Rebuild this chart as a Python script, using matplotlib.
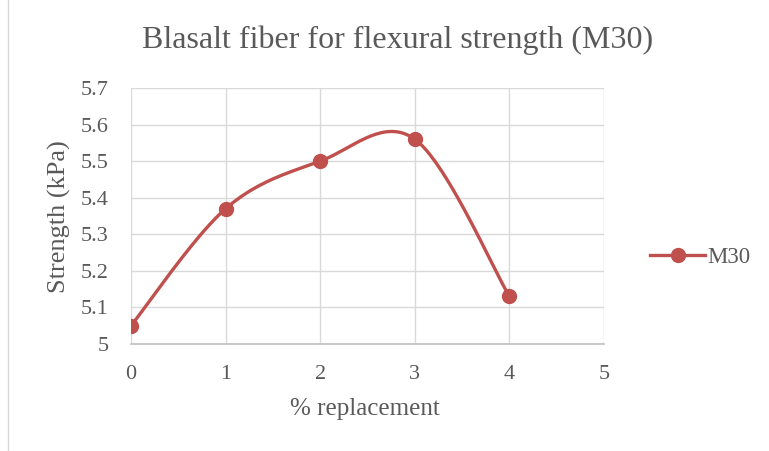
import numpy as np
import matplotlib
matplotlib.use("Agg")
import matplotlib.pyplot as plt
from matplotlib.lines import Line2D

# data
replacement = [0, 1, 2, 3, 4]
strength = [5.05, 5.37, 5.50, 5.56, 5.13]
series_name = "M30"

x_ticks = [0, 1, 2, 3, 4, 5]
y_ticks = [5.0, 5.1, 5.2, 5.3, 5.4, 5.5, 5.6, 5.7]
y_tick_labels = ["5", "5.1", "5.2", "5.3", "5.4", "5.5", "5.6", "5.7"]

line_color = "#c0504d"
grid_color = "#d9d9d9"
text_color = "#595959"

plt.rcParams["font.family"] = ["Liberation Serif", "DejaVu Serif"]

W, H = 769, 451


def smooth_curve(xs, ys, steps=40):
    # Excel-like smoothed line: bezier segments through the points
    xs = np.asarray(xs, float)
    ys = np.asarray(ys, float)
    px = np.concatenate([[xs[0]], xs, [xs[-1]]])
    py = np.concatenate([[ys[0]], ys, [ys[-1]]])
    out_x, out_y = [], []
    t = np.linspace(0, 1, steps)
    for i in range(1, len(px) - 2):
        p0, p1, p2, p3 = (np.array([px[j], py[j]]) for j in range(i - 1, i + 3))
        c1 = p1 + (p2 - p0) / 6
        c2 = p2 - (p3 - p1) / 6
        for tt in t:
            b = ((1 - tt) ** 3) * p1 + 3 * ((1 - tt) ** 2) * tt * c1 \
                + 3 * (1 - tt) * tt ** 2 * c2 + tt ** 3 * p2
            out_x.append(b[0])
            out_y.append(b[1])
    return out_x, out_y


fig = plt.figure(figsize=(W / 100, H / 100), dpi=100)
ax = fig.add_axes([131 / W, 1 - 344 / H, 473 / W, 256 / H])

sx, sy = smooth_curve(replacement, strength)
ax.plot(sx, sy, color=line_color, linewidth=2.4, solid_capstyle="round", zorder=3)
ax.plot(replacement, strength, linestyle="none", marker="o", markersize=10,
        color=line_color, zorder=4)

ax.set_xlim(0, 5)
ax.set_ylim(5.0, 5.7)
ax.set_xticks(x_ticks)
ax.set_yticks(y_ticks)
ax.set_yticklabels(y_tick_labels)
ax.grid(True, color=grid_color, linewidth=1)
ax.set_axisbelow(True)
for side in ["top", "right", "left"]:
    ax.spines[side].set_visible(False)
ax.spines["bottom"].set_color("#bfbfbf")
ax.spines["bottom"].set_linewidth(1.2)
ax.tick_params(length=0, labelsize=16, labelcolor=text_color)
ax.tick_params(axis="x", pad=15)
ax.tick_params(axis="y", pad=16)

# titles placed in figure pixels
fig.text(398 / W, 1 - 40 / H, "Blasalt fiber for flexural strength (M30)",
         fontsize=23, color=text_color, ha="center", va="center")
fig.text(365 / W, 1 - 409 / H, "% replacement", fontsize=18,
         color=text_color, ha="center", va="center")
fig.text(59 / W, 1 - 217 / H, "Strength (kPa)", fontsize=19,
         color=text_color, ha="center", va="center", rotation=90)

handle = Line2D([], [], color=line_color, linewidth=2.4, marker="o", markersize=10)
fig.legend([handle], [series_name], loc="center left",
           bbox_to_anchor=(650 / W, 1 - 257 / H), frameon=False, borderpad=0,
           borderaxespad=0, fontsize=16.5, labelcolor=text_color,
           handlelength=2.4, handletextpad=0.1)

# thin chart-area border on the left
fig.add_artist(Line2D([8 / W, 8 / W], [0, 1], color=grid_color, linewidth=1))

fig.savefig("out.png", dpi=100)
